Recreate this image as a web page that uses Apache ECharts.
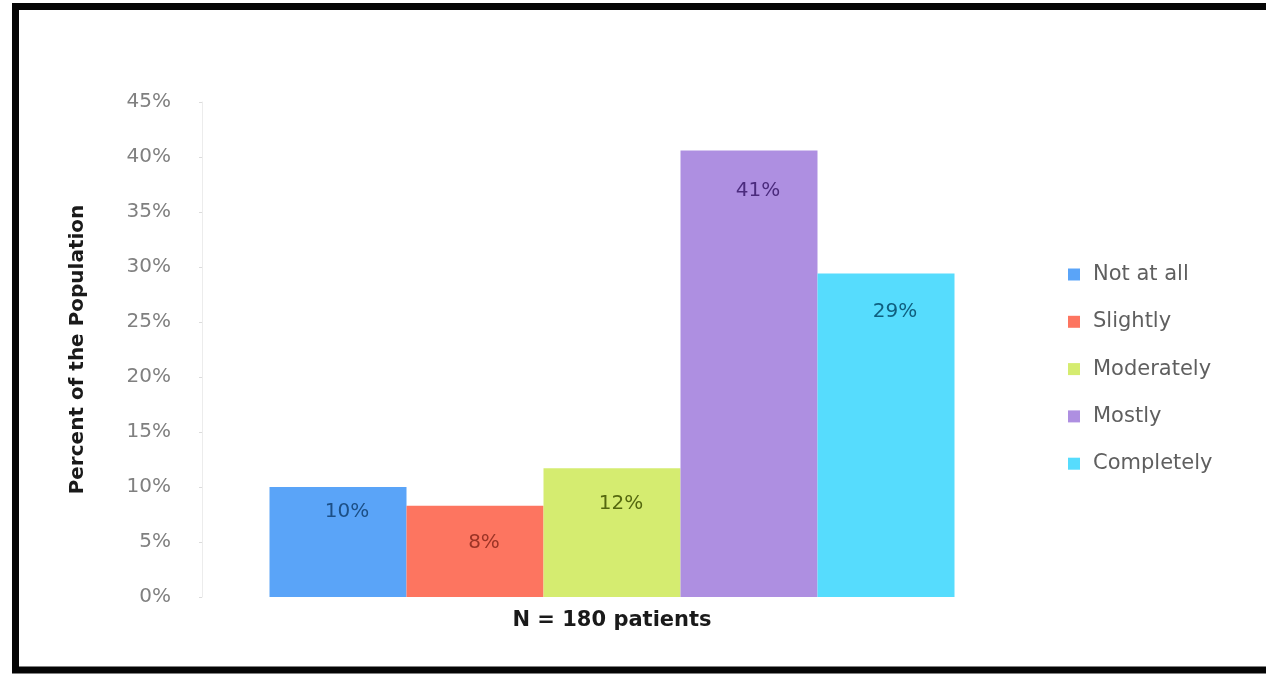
<!DOCTYPE html>
<html>
<head>
<meta charset="utf-8">
<title>Percent of the Population</title>
<script src="https://cdn.jsdelivr.net/npm/echarts@6/dist/echarts.min.js"></script>
<style>
  html, body { margin: 0; padding: 0; background: #ffffff; }
  #chart { width: 1266px; height: 674px; }
</style>
</head>
<body>
<div id="chart"></div>
<script>
// Survey responses, share of patients (percent)
const categories = ['N = 180 patients'];
const seriesNames = ['Not at all', 'Slightly', 'Moderately', 'Mostly', 'Completely'];
const seriesValues = [10.0, 8.3, 11.7, 40.6, 29.4];
const yTicks = [0, 5, 10, 15, 20, 25, 30, 35, 40, 45];

// Per-series styling
const barColors = ['#5aa4f8', '#fd7560', '#d5ec70', '#ae8fe1', '#56dcfd'];
const labelColors = ['#1c4f86', '#9c3426', '#55680f', '#4b2b7d', '#0f5f7f'];
const labelDistances = [15, 27, 25, 30, 28];

const chart = echarts.init(document.getElementById('chart'), null, { renderer: 'canvas' });

const series = seriesNames.map((name, i) => ({
  name: name,
  type: 'bar',
  data: [seriesValues[i]],
  barWidth: 137,
  barGap: '0%',
  itemStyle: { color: barColors[i] },
  label: {
    show: true,
    position: 'insideTop',
    distance: labelDistances[i],
    offset: [9, 0],
    color: labelColors[i],
    fontFamily: 'DejaVu Sans',
    fontSize: 20,
    formatter: p => Math.round(p.value) + '%'
  }
}));

chart.setOption({
  animation: false,
  backgroundColor: '#ffffff',
  graphic: [{
    type: 'rect',
    shape: { x: 15.5, y: 6.5, width: 1320, height: 663.5 },
    style: { fill: 'none', stroke: '#050505', lineWidth: 7 },
    silent: true,
    z: 100
  }],
  grid: { left: 202, right: 244, top: 102, bottom: 77, containLabel: false },
  legend: {
    orient: 'vertical',
    left: 1063,
    top: 259,
    itemWidth: 12,
    itemHeight: 12,
    itemGap: 26.3,
    icon: 'rect',
    textStyle: { color: '#5f5f5f', fontFamily: 'DejaVu Sans', fontSize: 21, padding: [0, 0, 0, 8] },
    data: seriesNames
  },
  xAxis: {
    type: 'category',
    data: categories,
    axisLine: { show: false },
    axisTick: { show: false },
    axisLabel: {
      margin: 13,
      color: '#1a1a1a',
      fontFamily: 'DejaVu Sans',
      fontWeight: 'bold',
      fontSize: 21
    }
  },
  yAxis: {
    type: 'value',
    min: yTicks[0],
    max: yTicks[yTicks.length - 1],
    interval: yTicks[1] - yTicks[0],
    name: 'Percent of the Population',
    nameLocation: 'middle',
    nameGap: 114,
    nameRotate: 90,
    nameTextStyle: { color: '#1a1a1a', fontFamily: 'DejaVu Sans', fontWeight: 'bold', fontSize: 20 },
    axisLine: { show: true, lineStyle: { color: '#ececec', width: 1 } },
    axisTick: { show: true, length: 3, lineStyle: { color: '#dcdcdc' } },
    splitLine: { show: false },
    axisLabel: {
      margin: 31,
      color: '#808080',
      fontFamily: 'DejaVu Sans',
      fontSize: 20,
      formatter: v => v + '%'
    }
  },
  series: series
});
</script>
</body>
</html>
